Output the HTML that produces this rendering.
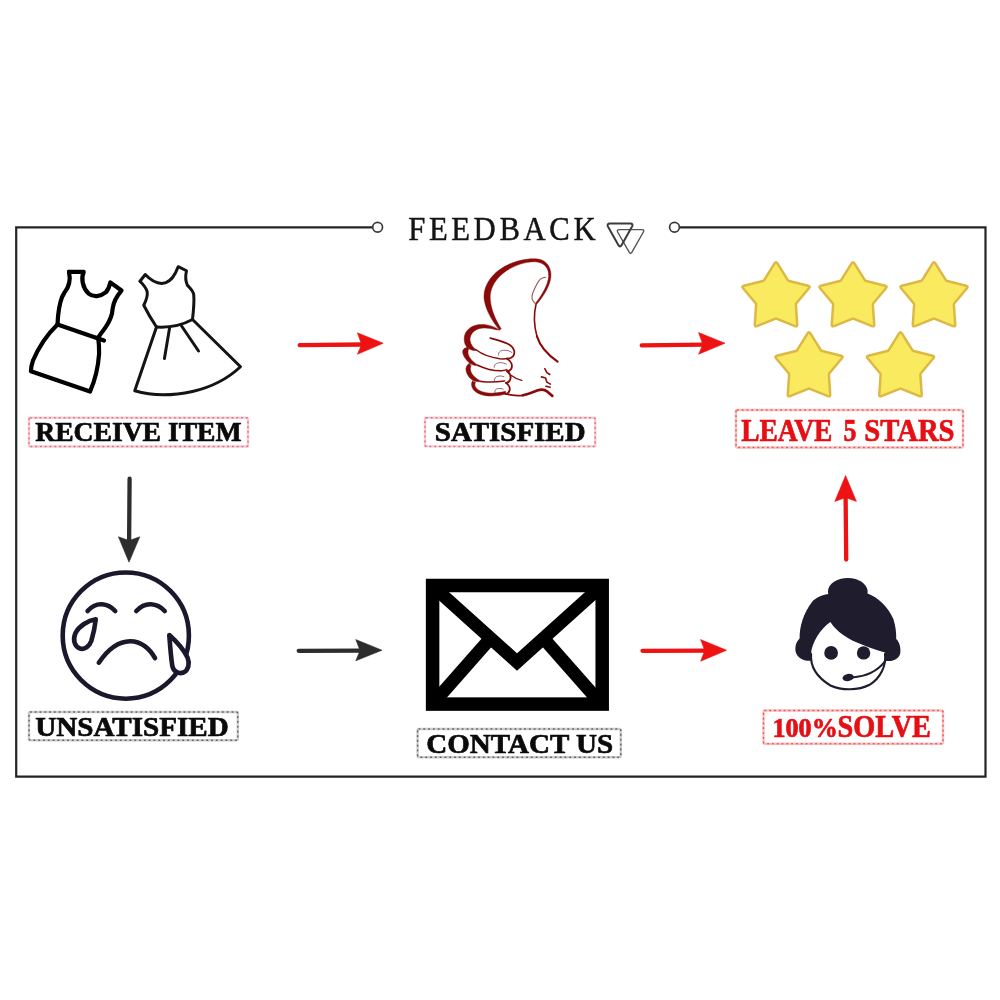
<!DOCTYPE html>
<html lang="en">
<head>
<meta charset="utf-8">
<title>Feedback</title>
<style>
html,body{margin:0;padding:0;background:#fff;}
body{width:1000px;height:1000px;overflow:hidden;position:relative;}
svg{display:block;position:absolute;left:0;top:0;}
#art{filter:blur(0.35px);}
text{font-family:"Liberation Serif","DejaVu Serif",serif;}
.lbl{font-weight:bold;}
</style>
</head>
<body>
<svg width="1000" height="1000" viewBox="0 0 1000 1000">
<rect x="0" y="0" width="1000" height="1000" fill="#ffffff"/>

<g id="art">
<!-- FRAME -->
<g id="frame" fill="none" stroke="#242424" stroke-width="2.2">
  <path d="M373 227.4 H16.2 V776.7 H985.5 V227.4 H679.5"/>
  <circle cx="377.6" cy="227.3" r="4.9" fill="#fff" stroke="#3a3a3a" stroke-width="1.7"/>
  <circle cx="674.5" cy="227.3" r="4.9" fill="#fff" stroke="#3a3a3a" stroke-width="1.7"/>
</g>

<!-- TITLE -->
<g id="title">
  <text x="408.2" y="240.2" font-size="34" fill="#141414" stroke="#141414" stroke-width="0.45" letter-spacing="4" textLength="191" lengthAdjust="spacingAndGlyphs">FEEDBACK</text>
  <g fill="none" stroke-linejoin="round">
    <path stroke="#555" stroke-width="1.4" d="M619.5 229.6 H642 Q644.6 229.8 643.4 232 L631.8 252.4 Q630.5 254.2 629.3 252.4 L617.6 232 Q616.6 229.8 619.5 229.6 Z"/>
    <path stroke="#3c3c3c" stroke-width="2" d="M609.8 223.6 H630.4 Q633.4 223.8 632.2 226.2 L621.4 245.4 Q620 247.4 618.6 245.4 L607.8 226.2 Q606.8 223.8 609.8 223.6 Z"/>
  </g>
</g>

<!-- DRESSES -->
<g id="dresses" fill="none" stroke-linejoin="round" stroke-linecap="round">
  <g transform="translate(20 260) scale(0.14)" stroke="#000" stroke-width="30">
    <path d="M350 85 L455 85 C435 130 445 195 490 240 C525 268 575 262 612 232 C630 212 640 188 645 160 L725 218 C690 258 668 300 662 345 C660 400 640 440 605 490 C590 510 575 528 565 545"/>
    <path d="M350 85 C362 140 352 190 318 232 C288 275 278 340 272 400 C270 425 269 445 268 460"/>
    <path d="M268 460 L600 575"/>
    <path d="M268 460 C200 525 130 630 92 720 C82 750 78 775 78 795 L500 940 C535 860 558 770 565 670 C566 625 563 585 558 552"/>
  </g>
  <g transform="translate(125 255) scale(0.15)" stroke="#141414" stroke-width="20">
    <path d="M100 175 L135 130 C165 162 205 188 245 190 C285 188 318 155 335 122 C343 105 350 90 355 78 L410 105 C403 135 402 170 415 200 C432 220 452 235 458 262 C462 300 458 360 450 430"/>
    <path d="M100 175 C120 195 140 215 148 245 C152 275 140 305 125 335 C150 385 180 435 210 480"/>
    <path d="M210 480 C290 485 385 465 450 430"/>
    <path d="M210 480 L65 905 C180 940 320 938 450 910 C580 880 690 820 770 745 L450 430"/>
    <path d="M297 487 L263 690"/>
    <path d="M375 470 L490 640"/>
  </g>
</g>

<!-- ARROWS -->
<g id="arrows">
<g fill="#ee1212" stroke="#ee1212"><path d="M299.7 345.2 L363.6 344.5" fill="none" stroke-width="4.3" stroke-linecap="round"/><path d="M357.4 332.8 L383.2 343.2 L357.4 354.3 L361.6 344.5 Z" stroke-width="0.6" stroke-linejoin="round"/></g>
<g fill="#ee1212" stroke="#ee1212"><path d="M641.7 345.4 L704.8 344.6" fill="none" stroke-width="4.3" stroke-linecap="round"/><path d="M698.6 332.6 L725.0 343.2 L698.6 354.2 L702.8 344.6 Z" stroke-width="0.6" stroke-linejoin="round"/></g>
<g fill="#2d2d2d" stroke="#2d2d2d"><path d="M298.7 650.8 L362.0 650.6" fill="none" stroke-width="4.3" stroke-linecap="round"/><path d="M355.8 639.6 L382.0 650.2 L355.8 660.8 L360.0 650.6 Z" stroke-width="0.6" stroke-linejoin="round"/></g>
<g fill="#ee1212" stroke="#ee1212"><path d="M642.5 650.8 L706.8 650.6" fill="none" stroke-width="4.3" stroke-linecap="round"/><path d="M700.6 639.6 L726.6 650.2 L700.6 661.2 L704.8 650.6 Z" stroke-width="0.6" stroke-linejoin="round"/></g>
<g fill="#2d2d2d" stroke="#2d2d2d"><path d="M129.6 478.7 L129.1 542.6" fill="none" stroke-width="4.3" stroke-linecap="round"/><path d="M118.4 536.8 L129.0 562.2 L139.8 536.8 L129.1 540.6 Z" stroke-width="0.6" stroke-linejoin="round"/></g>
<g fill="#ee1212" stroke="#ee1212"><path d="M846.2 559.5 L845.6 495.6" fill="none" stroke-width="4.3" stroke-linecap="round"/><path d="M834.8 501.4 L845.6 475.6 L856.4 501.4 L845.6 497.6 Z" stroke-width="0.6" stroke-linejoin="round"/></g>
</g>

<!-- THUMB -->
<g id="thumb" stroke-linecap="round" stroke-linejoin="round">
  <g transform="translate(440 250) scale(0.16)" fill="#8a0a0a" stroke="#8a0a0a">
    <path stroke-width="3" d="M372 500 C335 455 290 390 276 310 C266 230 320 150 400 105 C470 65 560 48 620 58 C670 68 697 115 693 165 C690 215 655 280 602 342 L594 336 C640 280 675 215 679 165 C681 120 660 86 615 76 C560 66 480 88 418 128 C350 172 308 240 314 310 C320 375 345 432 382 492 Z"/>
    <path fill="none" stroke-width="10" d="M600 340 C586 400 586 470 606 540"/>
    <path fill="none" stroke-width="13" d="M606 540 C628 610 680 660 735 698"/>
    <path fill="none" stroke="#94585c" stroke-width="7" d="M660 170 C640 172 620 185 610 205 C595 235 578 262 575 290 C574 310 585 328 600 338"/>
    <path fill="none" stroke-width="10" d="M655 742 L668 766 L686 778 M634 793 L660 800 L668 826 L690 838 M662 852 L688 858"/>
    <path fill="none" stroke-width="17" d="M519 908 C550 902 580 890 612 877 C635 870 655 872 672 886 C682 895 692 904 702 912"/>
  </g>
  <g transform="translate(455 320) scale(0.08)" fill="#8a0a0a" stroke="#8a0a0a">
    <path stroke-width="6" d="M553 122 C500 88 420 55 330 55 C220 55 120 120 115 230 C112 290 135 330 165 352 C200 380 240 385 275 380 C232 350 196 310 188 255 C182 180 240 112 330 102 C400 96 460 106 512 122 Z"/>
    <path fill="none" stroke-width="19" d="M262 372 C340 430 450 470 560 485 C600 488 630 486 655 481"/>
    <path fill="none" stroke-width="22" d="M442 226 C520 250 620 270 690 315 C742 350 758 410 725 455 C705 478 680 484 650 482"/>
    <path stroke-width="6" d="M160 345 C120 340 95 370 96 400 C100 450 140 505 190 545 C230 570 270 575 300 572 C250 545 200 500 176 455 C158 420 158 385 172 362 Z"/>
    <path fill="none" stroke-width="19" d="M285 565 C380 612 480 637 580 635 C610 633 630 628 648 620"/>
    <path fill="none" stroke-width="24" d="M652 484 C700 515 725 565 702 612 C690 632 670 640 650 640"/>
    <path stroke-width="6" d="M180 540 C145 560 132 595 138 630 C148 690 190 735 230 755 C270 772 310 775 340 770 C290 752 235 715 210 670 C190 635 188 600 200 575 Z"/>
    <path fill="none" stroke-width="19" d="M325 768 C420 782 520 777 620 762"/>
    <path fill="none" stroke-width="24" d="M652 642 C692 675 705 720 684 758 C672 776 655 785 638 786"/>
    <path fill="none" stroke-width="17" d="M700 690 C740 720 790 745 835 755"/>
    <path stroke-width="6" d="M218 760 C198 795 205 840 235 878 C280 925 360 950 450 950 C520 950 580 940 640 925 L632 892 C570 905 510 915 450 915 C370 912 300 890 265 850 C245 825 245 800 255 780 Z"/>
    <path fill="none" stroke-width="24" d="M640 788 C680 815 695 860 675 898 C665 915 650 924 636 926"/>
    <path fill="none" stroke-width="22" d="M640 924 C700 942 770 950 850 942"/>
    <g fill="none" stroke="#6a3048" stroke-width="9">
      <path d="M545 440 C535 410 560 382 610 378 C650 376 685 388 710 405"/>
      <path d="M490 592 C485 560 515 535 565 533 C595 533 620 540 642 552"/>
      <path d="M490 760 C488 728 510 705 550 700 C575 698 595 702 612 708"/>
      <path d="M500 910 C490 880 510 858 545 855 C568 854 585 858 602 864"/>
    </g>
  </g>
</g>

<!-- STARS -->
<g id="stars" fill="#f9ea5f" stroke="#ddb845" stroke-width="2.5" stroke-linejoin="round">
  <path d="M774.6 263.4 Q776.0 261.2 777.4 263.4 L787.7 279.9 Q788.2 280.8 789.2 281.0 L808.1 285.7 Q810.6 286.4 808.9 288.3 L796.4 303.3 Q795.8 304.0 795.9 305.0 L797.2 324.5 Q797.4 327.0 795.0 326.1 L776.9 318.8 Q776.0 318.4 775.1 318.8 L757.0 326.1 Q754.6 327.0 754.8 324.5 L756.1 305.0 Q756.2 304.0 755.6 303.3 L743.1 288.3 Q741.4 286.4 743.9 285.7 L762.8 281.0 Q763.8 280.8 764.3 279.9 Z"/>
  <path d="M851.6 263.4 Q853.0 261.2 854.4 263.4 L864.7 279.9 Q865.2 280.8 866.2 281.0 L885.1 285.7 Q887.6 286.4 885.9 288.3 L873.4 303.3 Q872.8 304.0 872.9 305.0 L874.2 324.5 Q874.4 327.0 872.0 326.1 L853.9 318.8 Q853.0 318.4 852.1 318.8 L834.0 326.1 Q831.6 327.0 831.8 324.5 L833.1 305.0 Q833.2 304.0 832.6 303.3 L820.1 288.3 Q818.4 286.4 820.9 285.7 L839.8 281.0 Q840.8 280.8 841.3 279.9 Z"/>
  <path d="M932.6 263.4 Q934.0 261.2 935.4 263.4 L945.7 279.9 Q946.2 280.8 947.2 281.0 L966.1 285.7 Q968.6 286.4 966.9 288.3 L954.4 303.3 Q953.8 304.0 953.9 305.0 L955.2 324.5 Q955.4 327.0 953.0 326.1 L934.9 318.8 Q934.0 318.4 933.1 318.8 L915.0 326.1 Q912.6 327.0 912.8 324.5 L914.1 305.0 Q914.2 304.0 913.6 303.3 L901.1 288.3 Q899.4 286.4 901.9 285.7 L920.8 281.0 Q921.8 280.8 922.3 279.9 Z"/>
  <path d="M807.6 333.4 Q809.0 331.2 810.4 333.4 L820.7 349.9 Q821.2 350.8 822.2 351.0 L841.1 355.7 Q843.6 356.4 841.9 358.3 L829.4 373.3 Q828.8 374.0 828.9 375.0 L830.2 394.5 Q830.4 397.0 828.0 396.1 L809.9 388.8 Q809.0 388.4 808.1 388.8 L790.0 396.1 Q787.6 397.0 787.8 394.5 L789.1 375.0 Q789.2 374.0 788.6 373.3 L776.1 358.3 Q774.4 356.4 776.9 355.7 L795.8 351.0 Q796.8 350.8 797.3 349.9 Z"/>
  <path d="M899.1 333.4 Q900.5 331.2 901.9 333.4 L912.2 349.9 Q912.7 350.8 913.7 351.0 L932.6 355.7 Q935.1 356.4 933.4 358.3 L920.9 373.3 Q920.3 374.0 920.4 375.0 L921.7 394.5 Q921.9 397.0 919.5 396.1 L901.4 388.8 Q900.5 388.4 899.6 388.8 L881.5 396.1 Q879.1 397.0 879.3 394.5 L880.6 375.0 Q880.7 374.0 880.1 373.3 L867.6 358.3 Q865.9 356.4 868.4 355.7 L887.3 351.0 Q888.3 350.8 888.8 349.9 Z"/>
</g>

<!-- SAD FACE -->
<g id="sad" fill="none" stroke="#1a192c" stroke-width="4.6" stroke-linecap="round" stroke-linejoin="round">
  <circle cx="125.8" cy="635.6" r="63.1"/>
  <path d="M87.6 611 C92 606 97 604 102 604.3 C107 604.6 111.5 607 115.2 611"/>
  <path d="M136.3 611 C141 606 146 604 151 604.3 C156 604.6 161 607 164.7 611"/>
  <path d="M98.8 662.7 C106 652 117 641.5 130 641.2 C141 641 150 649 155 658.2"/>
  <path d="M95.8 619.3 C88 620.5 79 626 75.5 633 C72.5 640 74.5 646.5 80 648.5 C85 650 89.5 646 91.3 641 C93.5 634 95 626 95.8 619.3 Z"/>
  <path fill="#fff" d="M169.3 635 C176 641 184 650 187.5 657.5 C190 663.5 188.5 670 183.5 672.5 C178.5 674.5 173.5 671.5 172.3 666 C170.8 656 170 645 169.3 635 Z"/>
</g>

<!-- ENVELOPE -->
<g id="env" fill="none" stroke="#000" stroke-width="13.5" stroke-linejoin="miter">
  <rect x="432.6" y="585.5" width="169.6" height="118.6"/>
  <path d="M437 590 L517 662 L597 590" stroke-width="13"/>
  <path d="M437 699 L489 640" stroke-width="13"/>
  <path d="M597 699 L545 640" stroke-width="13"/>
</g>

<!-- AGENT -->
<g id="agent" transform="translate(780 570) scale(0.14)">
  <path fill="#1f1d2d" d="M345 172 C335 130 360 85 430 64 C465 55 505 55 540 64 C600 82 635 130 625 168 C700 195 770 260 810 350 C825 400 832 450 830 492 C855 515 866 560 858 600 C845 635 815 650 780 650 L215 648 C165 650 125 625 112 585 C105 545 118 510 140 490 C140 400 165 310 235 220 C270 190 310 175 345 172 Z"/>
  <path fill="#fff" d="M222 600 C225 520 290 420 360 372 C390 420 440 465 520 505 C600 540 680 568 750 590 C760 680 720 770 640 820 C560 862 440 862 360 825 C270 770 215 690 222 600 Z"/>
  <path fill="none" stroke="#1f1d2d" stroke-width="15" stroke-linecap="round" d="M750 600 C760 680 720 770 640 820 C560 862 440 862 360 825 C270 770 215 690 222 600"/>
  <circle cx="365" cy="592" r="49" fill="#1f1d2d"/>
  <circle cx="597" cy="592" r="48" fill="#1f1d2d"/>
  <ellipse cx="487" cy="768" rx="41" ry="26" fill="#1f1d2d" transform="rotate(-10 487 768)"/>
  <path fill="none" stroke="#1f1d2d" stroke-width="14" stroke-linecap="round" d="M515 768 C600 762 690 730 748 655"/>
</g>

<!-- LABELS -->
<g id="labels" fill="none">
  <g stroke-width="2.4" opacity="0.3">
    <rect x="29" y="417.8" width="219" height="28.7" rx="1.5" stroke="#e5566a"/>
    <rect x="425" y="417.8" width="170.2" height="28.6" rx="1.5" stroke="#e5566a"/>
    <rect x="736" y="410" width="227" height="37.5" rx="1.5" stroke="#ea2a2a"/>
    <rect x="29" y="712" width="208.8" height="28.2" rx="1.5" stroke="#555"/>
    <rect x="417.6" y="729" width="203.2" height="28.2" rx="1.5" stroke="#555"/>
    <rect x="763.5" y="710.5" width="179.5" height="33.2" rx="1.5" stroke="#ea2a2a"/>
  </g>
  <g stroke-width="1.5" stroke-dasharray="0.7 4.1" stroke-linecap="round" opacity="0.85">
    <rect x="29" y="417.8" width="219" height="28.7" rx="1.5" stroke="#dc6178"/>
    <rect x="425" y="417.8" width="170.2" height="28.6" rx="1.5" stroke="#dc6178"/>
    <rect x="736" y="410" width="227" height="37.5" rx="1.5" stroke="#e24a4a"/>
    <rect x="29" y="712" width="208.8" height="28.2" rx="1.5" stroke="#505050"/>
    <rect x="417.6" y="729" width="203.2" height="28.2" rx="1.5" stroke="#505050"/>
    <rect x="763.5" y="710.5" width="179.5" height="33.2" rx="1.5" stroke="#e24a4a"/>
  </g>
</g>
<g id="labeltext" class="lbl" stroke-width="0.7" stroke-linejoin="round">
  <text x="35.2" y="440.7" font-size="27.2" fill="#0a0a0a" stroke="#0a0a0a" textLength="206.4" lengthAdjust="spacingAndGlyphs">RECEIVE ITEM</text>
  <text x="434.8" y="440.8" font-size="27.4" fill="#0a0a0a" stroke="#0a0a0a" textLength="150.8" lengthAdjust="spacingAndGlyphs">SATISFIED</text>
  <text y="441" font-size="32.6" fill="#e60f14" stroke="#e60f14"><tspan x="741.2" textLength="91.2" lengthAdjust="spacingAndGlyphs">LEAVE</tspan><tspan x="837" textLength="26" lengthAdjust="spacingAndGlyphs"> 5 </tspan><tspan x="864.2" textLength="90.4" lengthAdjust="spacingAndGlyphs">STARS</tspan></text>
  <text x="35.2" y="736" font-size="27.6" fill="#0a0a0a" stroke="#0a0a0a" textLength="193.6" lengthAdjust="spacingAndGlyphs">UNSATISFIED</text>
  <text x="426.2" y="753.2" font-size="28" fill="#0a0a0a" stroke="#0a0a0a" textLength="187" lengthAdjust="spacingAndGlyphs">CONTACT US</text>
  <text y="737.2" fill="#e60f14" stroke="#e60f14"><tspan x="772.4" font-size="27.2" textLength="65.4" lengthAdjust="spacingAndGlyphs">100%</tspan><tspan x="837.6" font-size="32.4" textLength="93.4" lengthAdjust="spacingAndGlyphs">SOLVE</tspan></text>
</g>
</g>
</svg>
</body>
</html>
